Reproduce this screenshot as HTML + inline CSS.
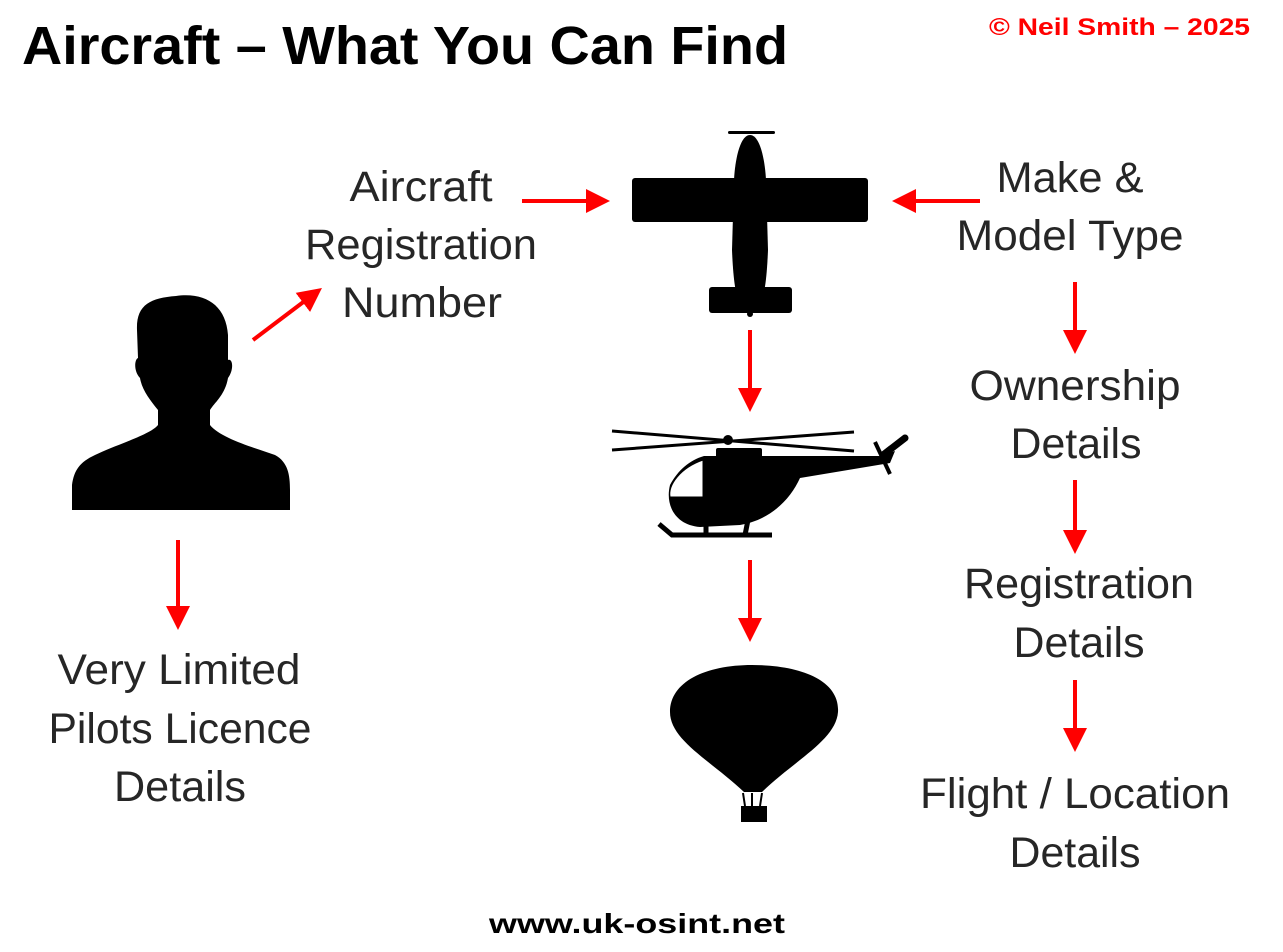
<!DOCTYPE html>
<html><head><meta charset="utf-8"><style>
html,body{margin:0;padding:0;background:#fff;}
svg{display:block;}
.t{font-family:"Liberation Sans",sans-serif;font-size:43px;fill:#262626;text-anchor:middle;}
</style></head><body>
<svg width="1283" height="952" viewBox="0 0 1283 952" xmlns="http://www.w3.org/2000/svg">
<defs>
<marker id="ah" markerWidth="6" markerHeight="6" refX="1" refY="3" orient="auto" markerUnits="strokeWidth">
<path d="M0,0 L6,3 L0,6 Z" fill="#f00"/>
</marker>
</defs>
<text x="22" y="64" font-family="Liberation Sans, sans-serif" font-weight="bold" font-size="54" textLength="766" lengthAdjust="spacingAndGlyphs">Aircraft – What You Can Find</text>
<text x="989" y="35" font-family="Liberation Sans, sans-serif" font-weight="bold" font-size="24" fill="#f00" textLength="261" lengthAdjust="spacingAndGlyphs">© Neil Smith – 2025</text>
<text x="637" y="933" font-family="Liberation Sans, sans-serif" font-weight="bold" font-size="28" text-anchor="middle" textLength="296" lengthAdjust="spacingAndGlyphs">www.uk-osint.net</text>

<g class="t" lengthAdjust="spacingAndGlyphs">
<text x="421" y="201" textLength="143" lengthAdjust="spacingAndGlyphs">Aircraft</text>
<text x="421" y="259" textLength="232" lengthAdjust="spacingAndGlyphs">Registration</text>
<text x="422" y="317" textLength="160" lengthAdjust="spacingAndGlyphs">Number</text>
<text x="1070" y="192" textLength="147" lengthAdjust="spacingAndGlyphs">Make &amp;</text>
<text x="1070" y="250" textLength="227" lengthAdjust="spacingAndGlyphs">Model Type</text>
<text x="1075" y="400" textLength="211" lengthAdjust="spacingAndGlyphs">Ownership</text>
<text x="1076" y="458" textLength="131" lengthAdjust="spacingAndGlyphs">Details</text>
<text x="1079" y="598" textLength="230" lengthAdjust="spacingAndGlyphs">Registration</text>
<text x="1079" y="657" textLength="131" lengthAdjust="spacingAndGlyphs">Details</text>
<text x="1075" y="808" textLength="310" lengthAdjust="spacingAndGlyphs">Flight / Location</text>
<text x="1075" y="867" textLength="131" lengthAdjust="spacingAndGlyphs">Details</text>
<text x="179" y="684" textLength="243" lengthAdjust="spacingAndGlyphs">Very Limited</text>
<text x="180" y="743" textLength="263" lengthAdjust="spacingAndGlyphs">Pilots Licence</text>
<text x="180" y="801" textLength="132" lengthAdjust="spacingAndGlyphs">Details</text>
</g>

<g stroke="#f00" stroke-width="4" fill="none" marker-end="url(#ah)">
<line x1="522" y1="201" x2="590" y2="201"/>
<line x1="980" y1="201" x2="912" y2="201"/>
<line x1="253" y1="340" x2="306" y2="300"/>
<line x1="750" y1="330" x2="750" y2="392"/>
<line x1="750" y1="560" x2="750" y2="622"/>
<line x1="1075" y1="282" x2="1075" y2="334"/>
<line x1="1075" y1="480" x2="1075" y2="534"/>
<line x1="1075" y1="680" x2="1075" y2="732"/>
<line x1="178" y1="540" x2="178" y2="610"/>
</g>

<!-- plane -->
<g fill="#000">
<rect x="728" y="131" width="47" height="3" rx="1.5"/>
<path d="M750,135 C760,135 765,160 766,180 L768,250 C767,275 765,290 763,295 L737,295 C735,290 733,275 732,250 L734,180 C735,160 740,135 750,135 Z"/>
<rect x="632" y="178" width="236" height="44" rx="3"/>
<rect x="709" y="287" width="83" height="26" rx="3"/>
<circle cx="750" cy="314" r="3"/>
</g>

<!-- helicopter -->
<g fill="#000" stroke="#000">
<line x1="612" y1="431" x2="854" y2="451" stroke-width="3"/>
<line x1="612" y1="450" x2="854" y2="432" stroke-width="3"/>
<circle cx="728" cy="440" r="5" stroke="none"/>
<rect x="716" y="448" width="46" height="12" rx="2" stroke="none"/>
<path d="M704,456 L790,456 L880,456 L895,451 L890,463 L800,478 C790,500 770,520 740,525 L700,527 C675,525 665,505 670,485 C678,470 690,460 704,456 Z" stroke="none"/>
<path d="M703,460 L703,497 L670,497 C668,485 680,468 703,460 Z" fill="#fff" stroke="#000" stroke-width="1"/>
<line x1="875" y1="442" x2="890" y2="474" stroke-width="4"/>
<line x1="883" y1="455" x2="905" y2="438" stroke-width="7" stroke-linecap="round"/>
<line x1="706" y1="522" x2="706" y2="535" stroke-width="5"/>
<line x1="748" y1="520" x2="745" y2="535" stroke-width="5"/>
<path d="M659,524 L672,535 L772,535" fill="none" stroke-width="5"/>
</g>

<!-- balloon -->
<g fill="#000">
<path d="M752,665 C800,665 840,680 838,712 C836,740 795,760 762,792 L744,792 C710,760 670,740 670,712 C670,682 705,665 752,665 Z"/>
<path d="M743,793 L745,806 M762,793 L760,806 M752,793 L752,806" stroke="#000" stroke-width="2" fill="none"/>
<rect x="741" y="806" width="26" height="16"/>
</g>

<!-- person -->
<path fill="#000" d="M176,296 C205,292 226,305 228,335 L228,360 C233,358 234,370 228,378 C225,395 215,402 210,410 L210,425 C220,438 255,448 275,455 C288,462 290,475 290,490 L290,510 L72,510 L72,485 C74,470 80,462 95,455 C115,445 150,435 158,425 L158,410 C150,400 142,390 140,378 C134,372 134,360 138,358 L137,330 C136,305 150,298 176,296 Z"/>
</svg>
</body></html>
